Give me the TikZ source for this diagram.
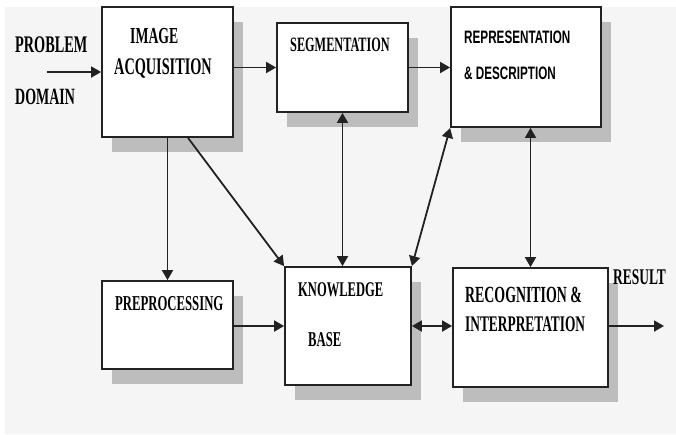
\documentclass[tikz,border=0pt]{standalone}
\usepackage{fontspec}
\newfontfamily\tnr[FakeStretch=0.6]{Liberation Serif}
\newfontfamily\arn[FakeStretch=0.65]{Liberation Sans}
\usetikzlibrary{arrows.meta,shadows}
\definecolor{bgc}{HTML}{F5F5F5}
\definecolor{shc}{HTML}{BDBDBD}
\definecolor{inkc}{HTML}{222222}
\tikzset{
  box/.style={draw=inkc, line width=1.8pt, fill=white, inner sep=0pt,
    drop shadow={shadow xshift=10pt, shadow yshift=-15pt, fill=shc, opacity=1}},
  arr/.style={draw=inkc, line width=1.8pt, -{Triangle[length=10pt,width=11pt]}},
  darr/.style={draw=inkc, line width=1.8pt, {Triangle[length=10pt,width=11pt]}-{Triangle[length=10pt,width=11pt]}},
  lab/.style={anchor=base west, inner sep=0pt, text=black},
}
\begin{document}
\begin{tikzpicture}[x=1pt,y=-1pt]
\useasboundingbox (0,0) rectangle (676,434);
\fill[white] (0,0) rectangle (676,434);
\fill[bgc] (5,7) rectangle (676,434);
% boxes
\node[box, minimum width=131pt, minimum height=130pt] (ia) at (167.5,72) {};
\node[box, minimum width=131pt, minimum height=89pt] (seg) at (342.5,67.5) {};
\node[box, minimum width=150pt, minimum height=120pt] (rep) at (526,67) {};
\node[box, minimum width=131pt, minimum height=88pt] (prep) at (167.5,325) {};
\node[box, minimum width=126pt, minimum height=118pt] (kb) at (348,326) {};
\node[box, minimum width=155pt, minimum height=119pt] (rec) at (530.5,327.5) {};
% labels
\node[lab, font=\tnr\bfseries\fontsize{23.8}{24}\selectfont] (tprob) at (15,52.9) {PROBLEM};
\node[lab, font=\tnr\bfseries\fontsize{23.3}{24}\selectfont] (tdom) at (15,104.7) {DOMAIN};
\node[lab, font=\tnr\bfseries\fontsize{22.9}{23}\selectfont] (timg) at (130,43.4) {IMAGE};
\node[lab, font=\tnr\bfseries\fontsize{23.8}{24}\selectfont] (tacq) at (114,74) {ACQUISITION};
\node[lab, font=\tnr\bfseries\fontsize{20.4}{21}\selectfont] (tseg) at (290,51.8) {SEGMENTATION};
\node[lab, font=\arn\bfseries\fontsize{18}{18}\selectfont] (trep) at (464,43.4) {REPRESENTATION};
\node[lab, font=\arn\bfseries\fontsize{18}{18}\selectfont] (tdes) at (464,79.4) {\& DESCRIPTION};
\node[lab, font=\tnr\bfseries\fontsize{21.2}{22}\selectfont] (tpre) at (115,310) {PREPROCESSING};
\node[lab, font=\tnr\bfseries\fontsize{20.9}{21}\selectfont] (tkno) at (298,296.9) {KNOWLEDGE};
\node[lab, font=\tnr\bfseries\fontsize{21.1}{21}\selectfont] (tbase) at (308,346) {BASE};
\node[lab, font=\tnr\bfseries\fontsize{23.1}{23}\selectfont] (treca) at (465,302.5) {RECOGNITION \&};
\node[lab, font=\tnr\bfseries\fontsize{22.3}{23}\selectfont] (trecb) at (465,331) {INTERPRETATION};
\node[lab, font=\tnr\bfseries\fontsize{22.4}{23}\selectfont] (tres) at (613,284.4) {RESULT};
% connectors
\coordinate (pin) at (47,72);
\coordinate (pout) at (664,326);
\draw[arr] (pin) -- (ia.west);
\draw[arr] (ia.east |- seg.center) -- (seg.west);
\draw[arr] (seg.east) -- (rep.west |- seg.center);
\draw[arr] (ia.south) -- (prep.north);
\draw[arr] ([xshift=20.5pt]ia.south) -- (kb.north west);
\draw[darr] (seg.south) -- (seg.south |- kb.north);
\draw[darr] (kb.north east) -- (rep.south west);
\draw[darr] (rec.north |- rep.south) -- (rec.north);
\draw[arr] (prep.east |- kb.center) -- (kb.west);
\draw[darr] (kb.east) -- (rec.west |- kb.center);
\draw[arr] (rec.east |- kb.center) -- (pout);
\end{tikzpicture}
\end{document}
